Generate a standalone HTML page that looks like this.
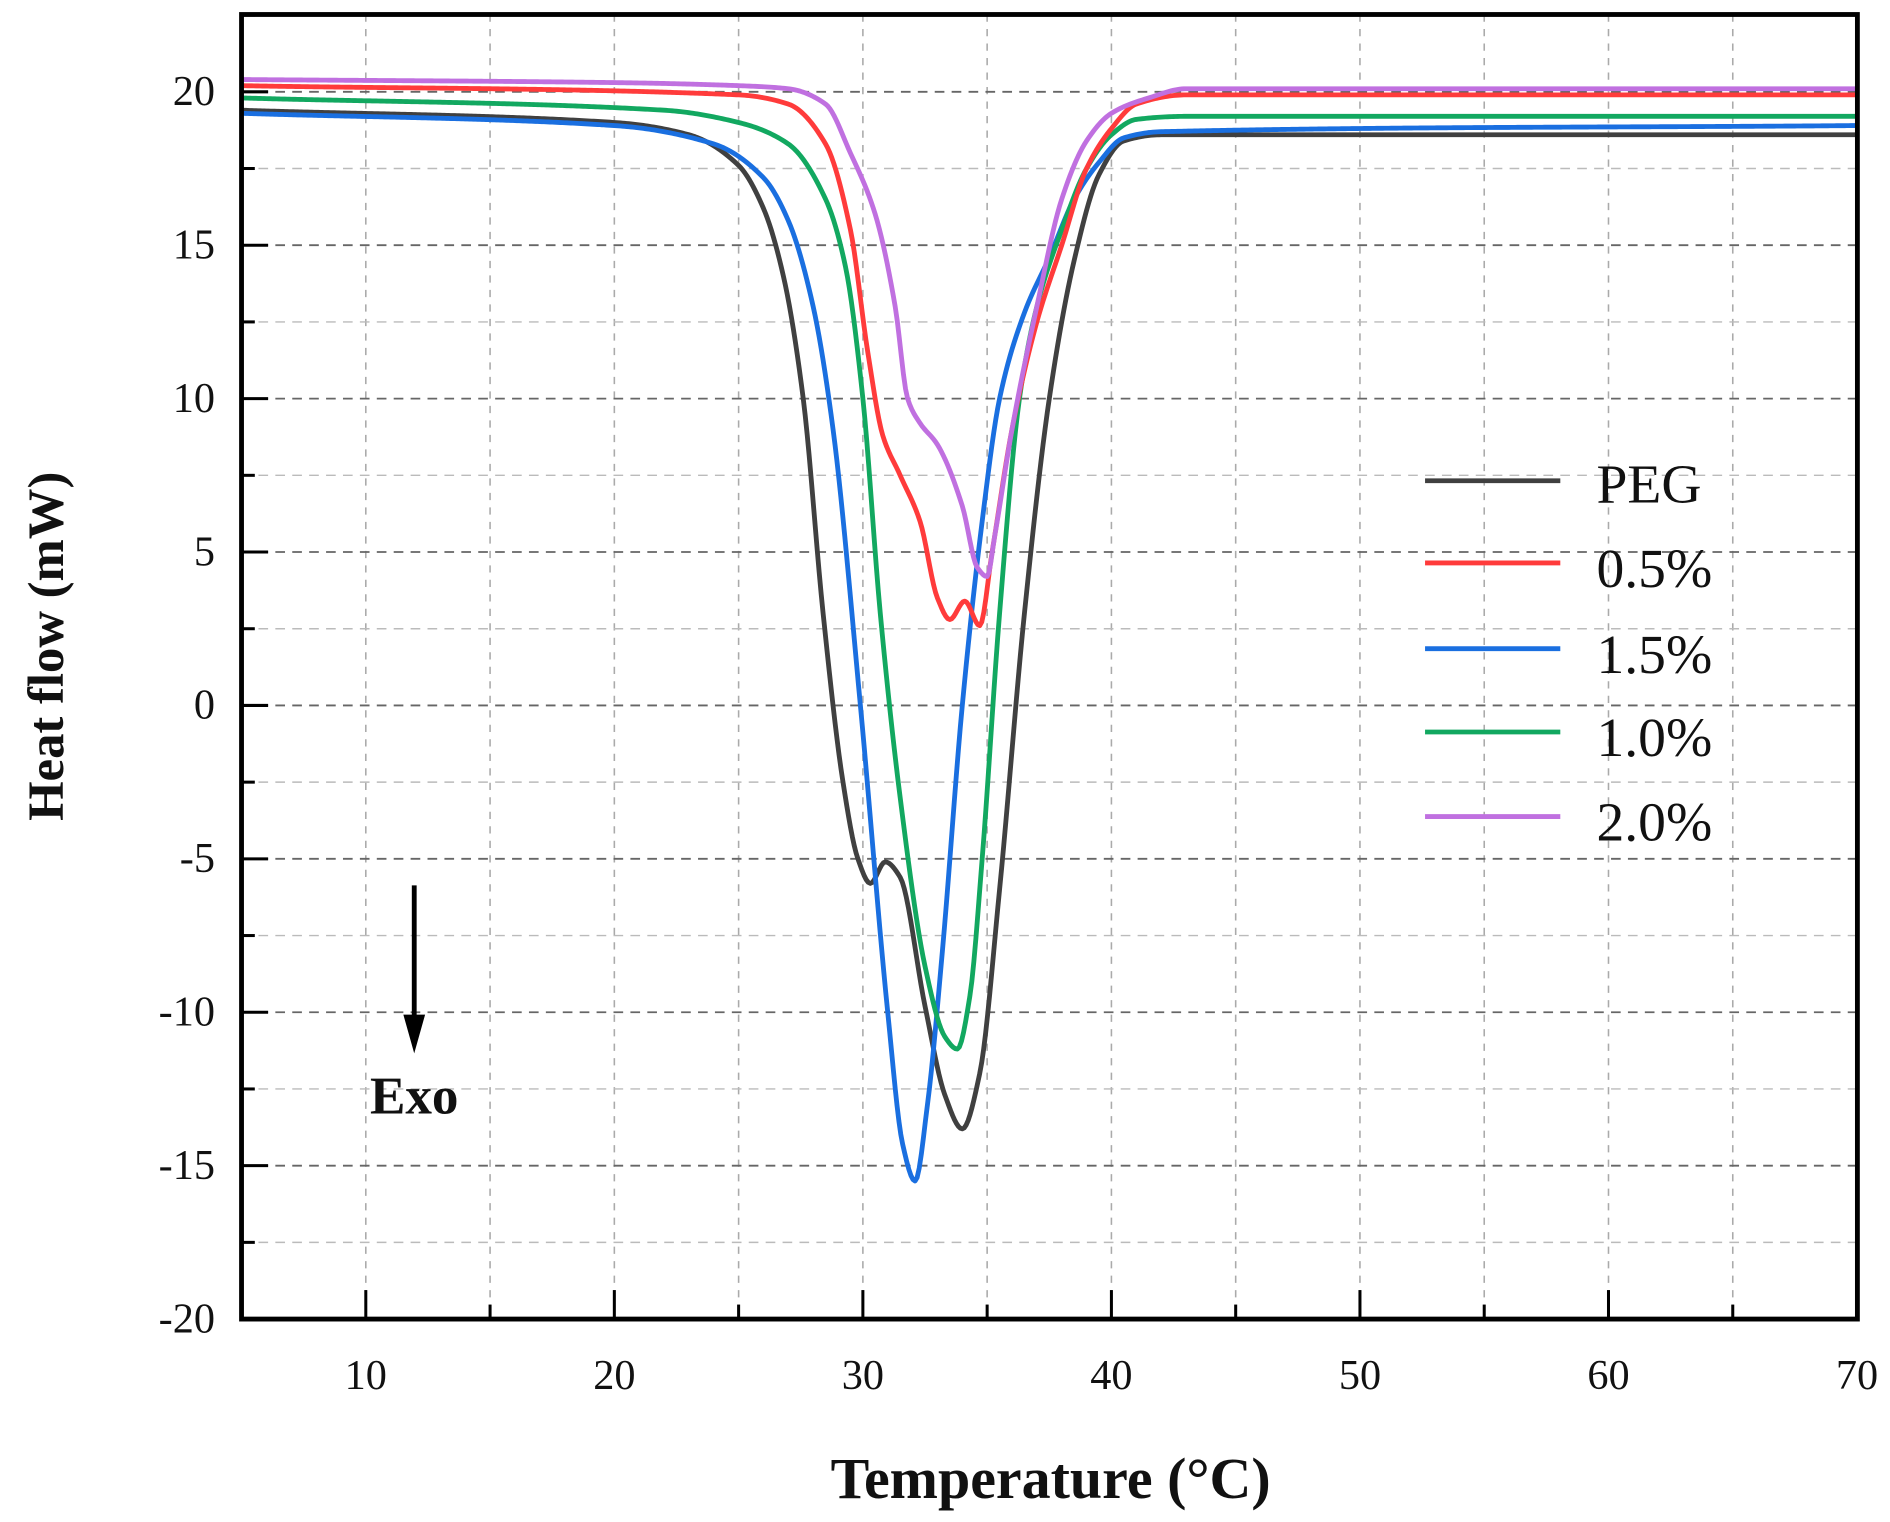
<!DOCTYPE html>
<html><head><meta charset="utf-8"><style>
html,body{margin:0;padding:0;background:#fff}
svg{display:block}
text{font-family:"Liberation Serif",serif;fill:#111}
</style></head><body>
<svg id="s" width="1890" height="1522" viewBox="0 0 1565 1260" preserveAspectRatio="none" xmlns="http://www.w3.org/2000/svg">
<g id="grid"></g>
<g id="curves" fill="none" stroke-width="4" stroke-linejoin="round"></g>
<rect x="200" y="12" width="1338" height="1080" fill="none" stroke="#000" stroke-width="4"/>
<g id="ticks" stroke="#000" stroke-width="2.5"></g>
<g id="labels" font-size="35"></g>
<text x="870" y="1240" font-size="48" font-weight="bold" text-anchor="middle">Temperature (°C)</text>
<text transform="translate(52,535) rotate(-90)" font-size="42" font-weight="bold" text-anchor="middle">Heat flow (mW)</text>
<line x1="343" y1="733" x2="343" y2="850" stroke="#000" stroke-width="4"/>
<polygon points="334,840 352,840 343,872" fill="#000"/>
<text x="343" y="922" font-size="44" font-weight="bold" text-anchor="middle">Exo</text>
<g stroke-width="4">
<line x1="1180" y1="398" x2="1292" y2="398" stroke="#404040"/>
<line x1="1180" y1="466" x2="1292" y2="466" stroke="#ff3b3b"/>
<line x1="1180" y1="537" x2="1292" y2="537" stroke="#1a6fe0"/>
<line x1="1180" y1="606" x2="1292" y2="606" stroke="#12a860"/>
<line x1="1180" y1="676" x2="1292" y2="676" stroke="#c070e0"/>
</g>
<g font-size="46">
<text x="1322" y="416">PEG</text>
<text x="1322" y="486">0.5%</text>
<text x="1322" y="557">1.5%</text>
<text x="1322" y="626">1.0%</text>
<text x="1322" y="696">2.0%</text>
</g>
</svg>
<script>
var NS="http://www.w3.org/2000/svg";
function X(t){return 200+(t-5)*20.58}
function Y(v){return 76+(20-v)*25.4}
function el(p,tag,a,txt){var e=document.createElementNS(NS,tag);for(var k in a)e.setAttribute(k,a[k]);if(txt!==undefined)e.textContent=txt;document.getElementById(p).appendChild(e);}
for(var t=10;t<70;t+=5){el("grid","line",{x1:X(t),y1:12,x2:X(t),y2:1092,stroke:"#aaa","stroke-width":1.3,"stroke-dasharray":"6 6"});}
for(var v=-17.5;v<22;v+=2.5){var major=(v%5===0);el("grid","line",{x1:200,y1:Y(v),x2:1538,y2:Y(v),stroke:major?"#666":"#bbb","stroke-width":major?1.5:1.2,"stroke-dasharray":"8 6"});}
for(var t=10;t<=70;t+=5){var mj=(t%10===0);el("ticks","line",{x1:X(t),y1:1092,x2:X(t),y2:mj?1068:1080});}
for(var v=-20;v<=22.5;v+=2.5){var mj=(v%5===0);el("ticks","line",{x1:200,y1:Y(v),x2:mj?222:211,y2:Y(v)});}
for(var t=10;t<=70;t+=10)el("labels","text",{x:X(t),y:1150,"text-anchor":"middle"},String(t));
for(var v=-20;v<=20;v+=5)el("labels","text",{x:178,y:Y(v)+11,"text-anchor":"end"},String(v));
var D={
"#404040":[[5,19.4],[20,19.0],[23,18.6],[25,17.6],[26,16.2],[26.8,14],[27.6,10],[28.4,3],[29.2,-2.5],[29.8,-5],[30.3,-5.8],[30.9,-5.1],[31.5,-5.6],[32.5,-9.8],[33.3,-12.7],[34,-13.8],[34.7,-12],[35.5,-6],[36.5,3],[37.5,10],[38.5,14.5],[39.5,17.3],[40.5,18.4],[42,18.6],[70,18.6]],
"#1a6fe0":[[5,19.3],[20,18.9],[24,18.3],[26,17.2],[27,15.8],[28,13],[28.8,9],[29.9,0],[31,-10],[31.6,-14.3],[32.1,-15.5],[32.6,-13],[33.2,-8],[34,0],[34.8,6],[35.5,10],[36.5,12.8],[37.5,14.6],[38.5,16.5],[39.5,17.7],[40.5,18.5],[42,18.7],[70,18.9]],
"#12a860":[[5,19.8],[22,19.4],[25,19.0],[27,18.3],[28.5,16.5],[29.3,14.3],[30,10],[30.7,3],[31.5,-3],[32.5,-8.5],[33.3,-10.8],[33.8,-11.2],[34.3,-9.5],[34.8,-5],[35.5,3],[36.3,10],[37,13],[38,15.5],[39,17.5],[40,18.6],[41,19.1],[43,19.2],[70,19.2]],
"#ff3b3b":[[5,20.2],[25,19.9],[27,19.6],[28.5,18.3],[29.5,15.5],[30.2,11.5],[30.8,8.8],[31.5,7.5],[32.3,6],[33,3.5],[33.5,2.8],[34.1,3.4],[34.7,2.6],[35.2,5],[36,9],[37,12.5],[38,15],[39,17.5],[40,18.8],[41,19.6],[43,19.9],[70,19.9]],
"#c070e0":[[5,20.4],[20,20.3],[25,20.2],[27,20.1],[28.5,19.6],[29.5,18],[30.5,16],[31.3,13],[31.8,10],[32.3,9.2],[33,8.5],[34,6.5],[34.6,4.5],[35,4.2],[35.3,5.5],[36,9],[37,13],[38,16.5],[39,18.4],[40,19.3],[41.5,19.8],[43,20.1],[70,20.1]]};
function mono(pts){var n=pts.length,x=pts.map(p=>p[0]),y=pts.map(p=>p[1]),d=[],m=[];
for(var i=0;i<n-1;i++)d.push((y[i+1]-y[i])/(x[i+1]-x[i]));
m[0]=d[0];m[n-1]=d[n-2];
for(var i=1;i<n-1;i++){if(d[i-1]*d[i]<=0)m[i]=0;else{var h0=x[i]-x[i-1],h1=x[i+1]-x[i];var w1=2*h1+h0,w2=h1+2*h0;m[i]=(w1+w2)/(w1/d[i-1]+w2/d[i]);}}
var out=[];for(var i=0;i<n-1;i++){var h=x[i+1]-x[i],N=Math.max(4,Math.ceil(h*12));for(var k=0;k<N;k++){var s=k/N,s2=s*s,s3=s2*s;
var v=(2*s3-3*s2+1)*y[i]+(s3-2*s2+s)*h*m[i]+(-2*s3+3*s2)*y[i+1]+(s3-s2)*h*m[i+1];out.push([x[i]+s*h,v]);}}
out.push([x[n-1],y[n-1]]);return out;}
for(var c in D){var p=mono(D[c]);var d="M"+p.map(q=>X(q[0]).toFixed(2)+","+Y(q[1]).toFixed(2)).join(" L");
el("curves","path",{d:d,stroke:c});}
</script>
</body></html>
